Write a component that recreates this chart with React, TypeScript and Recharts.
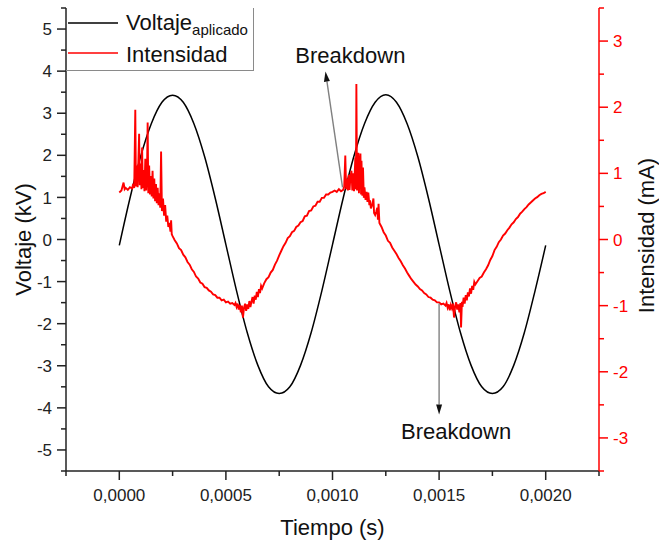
import React from 'react';
import { LineChart, Line, XAxis, YAxis, ReferenceLine, ReferenceDot } from 'recharts';

const FONT = "'Liberation Sans', Arial, Helvetica, sans-serif";
const RED = '#ff0000';
const AXIS = '#222';

// Voltaje aplicado (kV), una muestra cada 50 µs desde t = 0
const PASO_V = 0.00005;
const voltaje = [
  -0.14, 0.98, 1.97, 2.75, 3.26, 3.43, 3.26, 2.75, 1.97, 0.98,
  -0.12, -1.22, -2.21, -2.99, -3.5, -3.66, -3.5, -2.99, -2.21, -1.22,
  -0.12, 0.98, 1.97, 2.75, 3.26, 3.44, 3.26, 2.75, 1.97, 0.98,
  -0.12, -1.22, -2.21, -2.99, -3.5, -3.66, -3.5, -2.99, -2.21, -1.22,
  -0.14,
];

// Intensidad (mA): pares [t en unidades de 10 µs, mA]
const intensidadPico1: [number, number][] = [
  [0, 0.71], [1, 0.74], [2, 0.86], [2.5, 0.76], [3, 0.78], [4, 0.75], [5, 0.79], [6, 0.77],
  [6.5, 0.84], [7, 0.78], [7.5, 1.96], [7.8, 0.8], [8.2, 1.12], [8.6, 0.79], [9, 1.25], [9.3, 1.6],
  [9.6, 0.82], [10, 1.15], [10.4, 0.76], [10.7, 1.39], [11, 0.78], [11.4, 1.05], [11.8, 0.73],
  [12.2, 1.22], [12.6, 0.74], [13, 1.02], [13.3, 1.77], [13.6, 0.7], [14, 1.12], [14.4, 0.68],
  [14.8, 0.96], [15.2, 0.65], [15.6, 1.04], [16, 0.62], [16.4, 0.92], [16.8, 0.58], [17.2, 0.84],
  [17.6, 0.55], [18, 0.78], [18.4, 0.52], [18.8, 0.7], [19.2, 0.48], [19.6, 1.33], [20, 0.43],
  [20.5, 0.62], [21, 0.36], [21.5, 0.52], [22, 0.27], [22.5, 0.36], [23, 0.19], [23.5, 0.25],
  [24, 0.12], [24.3, 0.29], [24.6, 0.08], [25, 0.05], [26, -0.01],
];
const intensidadBajada1: [number, number][] = [
  [27, -0.06], [28, -0.13], [29, -0.16], [30, -0.23], [31, -0.27], [32, -0.34], [33, -0.38],
  [34, -0.45], [35, -0.49], [36, -0.56], [37, -0.59], [38, -0.65], [39, -0.67], [40, -0.72],
  [41, -0.73], [42, -0.77], [43, -0.79], [44, -0.83], [45, -0.84], [46, -0.88], [47, -0.88],
  [48, -0.92], [49, -0.91], [50, -0.95], [51, -0.94], [52, -0.97], [53, -0.96], [54, -0.99],
];
const intensidadValle1: [number, number][] = [
  [54.5, -0.96], [55, -1.02], [55.5, -0.97], [56, -1.06], [56.5, -0.99], [57, -1.1], [57.5, -1.0],
  [58, -1.18], [58.5, -1.03], [59, -0.97], [59.5, -1.08], [60, -0.98], [60.5, -1.05], [61, -0.93],
  [61.5, -1.02], [62, -0.94], [62.5, -0.87], [63, -0.97], [63.5, -0.85], [64, -0.91], [64.5, -0.79],
  [65, -0.87], [65.5, -0.75], [66, -0.81], [66.5, -0.7], [67, -0.74], [68, -0.66], [69, -0.6],
  [70, -0.57],
];
const intensidadSubida1: [number, number][] = [
  [71, -0.5], [72, -0.46], [73, -0.38], [74, -0.32], [75, -0.24], [76, -0.17], [77, -0.1],
  [78, -0.05], [79, 0.02], [80, 0.05], [81, 0.11], [82, 0.13], [83, 0.19], [84, 0.21], [85, 0.26],
  [86, 0.28], [87, 0.35], [88, 0.36], [89, 0.43], [90, 0.44], [91, 0.5], [92, 0.51], [93, 0.57],
  [94, 0.57], [95, 0.63], [96, 0.63], [97, 0.68], [98, 0.68], [99, 0.71], [100, 0.72],
];
const intensidadPico2: [number, number][] = [
  [101, 0.74], [102, 0.72], [103, 0.76], [104, 0.73], [105, 0.75], [105.5, 0.8], [106, 1.27],
  [106.4, 0.76], [106.8, 0.92], [107.2, 0.74], [107.6, 0.98], [108, 0.75], [108.4, 0.94],
  [108.9, 1.04], [109.3, 0.74], [109.7, 1.0], [110.1, 0.73], [110.7, 1.24], [111, 0.76],
  [111.2, 2.35], [111.5, 0.74], [111.8, 1.05], [112.1, 1.31], [112.4, 0.7], [112.8, 1.12],
  [113.1, 1.3], [113.4, 0.68], [113.6, 1.19], [114, 0.66], [114.3, 1.09], [114.7, 0.63],
  [115, 0.79], [115.5, 0.6], [116, 0.72], [116.4, 0.57], [116.8, 0.71], [117.3, 0.52],
  [117.6, 0.59], [118, 0.47], [118.6, 0.52], [119.2, 0.62], [119.5, 0.4], [120, 0.37],
  [120.5, 0.42], [121, 0.48], [121.3, 0.3], [121.6, 0.54], [122, 0.25], [123, 0.19], [124, 0.11],
  [125, 0.06], [126, -0.02],
];
const intensidadBajada2: [number, number][] = [
  [127, -0.05], [128, -0.12], [129, -0.17], [130, -0.22], [131, -0.28], [132, -0.33], [133, -0.39],
  [134, -0.44], [135, -0.5], [136, -0.55], [137, -0.6], [138, -0.64], [139, -0.68], [140, -0.71],
  [141, -0.75], [142, -0.77], [143, -0.81], [144, -0.83], [145, -0.87], [146, -0.88], [147, -0.91],
  [148, -0.92], [149, -0.95], [150, -0.95], [151, -0.98], [152, -0.97], [153, -1.0],
];
const intensidadValle2: [number, number][] = [
  [153.5, -0.96], [154, -1.03], [154.5, -0.98], [155, -1.07], [155.5, -0.99], [156, -1.04],
  [156.5, -0.97], [157, -1.18], [157.5, -1.01], [158, -0.95], [158.5, -1.06], [159, -0.98],
  [159.5, -1.1], [160, -0.96], [160.3, -1.33], [160.7, -0.94], [161, -1.02], [161.5, -0.88],
  [162, -0.97], [162.5, -0.84], [163, -0.92], [163.5, -0.8], [164, -0.86], [164.5, -0.74],
  [165, -0.82], [165.5, -0.7], [166, -0.76], [166.5, -0.64], [167, -0.68], [168, -0.63],
  [169, -0.58], [170, -0.56],
];
const intensidadSubida2: [number, number][] = [
  [171, -0.5], [172, -0.45], [173, -0.39], [174, -0.31], [175, -0.25], [176, -0.16], [177, -0.11],
  [178, -0.04], [179, 0.0], [180, 0.06], [181, 0.09], [182, 0.14], [183, 0.18], [184, 0.23],
  [185, 0.26], [186, 0.31], [187, 0.34], [188, 0.39], [189, 0.42], [190, 0.46], [191, 0.49],
  [192, 0.53], [193, 0.56], [194, 0.59], [195, 0.62], [196, 0.64], [197, 0.67], [198, 0.69],
  [199, 0.7], [200, 0.72],
];

const ticksX = [-0.00025, 0, 0.00025, 0.0005, 0.00075, 0.001, 0.00125, 0.0015, 0.00175, 0.002, 0.00225];
const ticksV = [-5.5, -5, -4.5, -4, -3.5, -3, -2.5, -2, -1.5, -1, -0.5, 0, 0.5, 1, 1.5, 2, 2.5, 3, 3.5, 4, 4.5, 5, 5.5];
const ticksI = [-3.5, -3, -2.5, -2, -1.5, -1, -0.5, 0, 0.5, 1, 1.5, 2, 2.5, 3, 3.5];

const datosV = voltaje.map((v, i) => ({ t: i * PASO_V, v }));
const datosI = [
  ...intensidadPico1, ...intensidadBajada1, ...intensidadValle1, ...intensidadSubida1,
  ...intensidadPico2, ...intensidadBajada2, ...intensidadValle2, ...intensidadSubida2,
].map(([k, i]) => ({ t: k * 1e-5, i }));

const TM = 2;
const isInt = (v: number) => Math.abs(v - Math.round(v)) < 1e-6;
const isMajorX = (v: number) => isInt(v / 0.0005);

const LeftTick = ({ x, y, payload }: any) => {
  const ax = x + TM;
  const major = isInt(payload.value);
  return (
    <g>
      <line x1={ax - (major ? 9 : 5)} x2={ax} y1={y} y2={y} stroke={AXIS} strokeWidth={1.5} />
      {major && (
        <text x={ax - 14} y={y} dy="0.36em" textAnchor="end" fontSize={17} fill="#222" fontFamily={FONT}>
          {payload.value}
        </text>
      )}
    </g>
  );
};

const RightTick = ({ x, y, payload }: any) => {
  const ax = x - TM;
  const major = isInt(payload.value);
  return (
    <g>
      <line x1={ax} x2={ax + (major ? 9 : 5)} y1={y} y2={y} stroke={RED} strokeWidth={1.5} />
      {major && (
        <text x={ax + 14} y={y} dy="0.36em" textAnchor="start" fontSize={17} fill={RED} fontFamily={FONT}>
          {payload.value}
        </text>
      )}
    </g>
  );
};

const BottomTick = ({ x, y, payload }: any) => {
  const ay = y - TM;
  const major = isMajorX(payload.value);
  return (
    <g>
      <line x1={x} x2={x} y1={ay} y2={ay + (major ? 9 : 5)} stroke={AXIS} strokeWidth={1.5} />
      {major && (
        <text x={x} y={ay + 30} textAnchor="middle" fontSize={17} fill="#222" fontFamily={FONT}>
          {payload.value.toFixed(4).replace('.', ',')}
        </text>
      )}
    </g>
  );
};

const TopTick = ({ x, y, payload }: any) => {
  const ay = y + TM;
  const major = isMajorX(payload.value);
  return <line x1={x} x2={x} y1={ay} y2={ay + (major ? 8 : 4)} stroke={AXIS} strokeWidth={1.5} />;
};

const Flecha = (props: any) => {
  const { x1, y1, x2, y2 } = props;
  const ang = Math.atan2(y2 - y1, x2 - x1);
  const L = 10;
  const W = 3;
  const bx = x2 - L * Math.cos(ang);
  const by = y2 - L * Math.sin(ang);
  const px = -Math.sin(ang) * W;
  const py = Math.cos(ang) * W;
  return (
    <g>
      <line x1={x1} y1={y1} x2={bx} y2={by} stroke="#808080" strokeWidth={1.4} />
      <polygon points={`${x2},${y2} ${bx + px},${by + py} ${bx - px},${by - py}`} fill="#111" />
    </g>
  );
};

const Texto = (props: any) => (
  <text x={props.cx} y={props.cy} textAnchor="middle" fontSize={22} fill="#111" fontFamily={FONT}>
    Breakdown
  </text>
);

const tituloV = (p: any) => {
  const vb = p.viewBox ?? { x: 0, y: 8, width: 66, height: 463 };
  return (
    <text transform={`translate(${vb.x + 31},${vb.y + vb.height / 2}) rotate(-90)`} textAnchor="middle"
      fontSize={22} fill="#111" fontFamily={FONT}>
      Voltaje (kV)
    </text>
  );
};

const tituloI = (p: any) => {
  const vb = p.viewBox ?? { x: 599, y: 8, width: 60, height: 463 };
  return (
    <text transform={`translate(${vb.x + 55},${vb.y + vb.height / 2 - 4}) rotate(-90)`} textAnchor="middle"
      fontSize={22} fill="#111" fontFamily={FONT}>
      Intensidad (mA)
    </text>
  );
};

const tituloT = (p: any) => {
  const vb = p.viewBox ?? { x: 66, y: 471, width: 533, height: 73 };
  return (
    <text x={vb.x + vb.width / 2} y={vb.y + 64} textAnchor="middle" fontSize={22} fill="#111" fontFamily={FONT}>
      Tiempo (s)
    </text>
  );
};

export default function App() {
  return (
    <div style={{ position: 'absolute', left: 0, top: 0, width: 659, height: 544, background: '#fff', fontFamily: FONT }}>
      <LineChart width={659} height={544} margin={{ top: 8, right: 0, bottom: 0, left: 0 }}>
        <XAxis
          dataKey="t"
          type="number"
          domain={[-0.00025, 0.00225]}
          ticks={ticksX}
          interval={0}
          allowDataOverflow
          height={73}
          tickSize={0}
          tickMargin={TM}
          tickLine={false}
          tick={<BottomTick />}
          axisLine={{ stroke: AXIS, strokeWidth: 1.5 }}
          label={{ content: tituloT }}
        />
        <XAxis
          xAxisId="top"
          orientation="top"
          type="number"
          domain={[-0.00025, 0.00225]}
          ticks={ticksX}
          interval={0}
          allowDataOverflow
          height={0}
          tickSize={0}
          tickMargin={TM}
          tickLine={false}
          tick={<TopTick />}
          axisLine={{ stroke: AXIS, strokeWidth: 1.5 }}
        />
        <YAxis
          yAxisId="left"
          type="number"
          domain={[-5.5, 5.5]}
          ticks={ticksV}
          interval={0}
          allowDataOverflow
          width={66}
          tickSize={0}
          tickMargin={TM}
          tickLine={false}
          tick={<LeftTick />}
          axisLine={{ stroke: AXIS, strokeWidth: 1.5 }}
          label={{ content: tituloV }}
        />
        <YAxis
          yAxisId="right"
          orientation="right"
          type="number"
          domain={[-3.5, 3.5]}
          ticks={ticksI}
          interval={0}
          allowDataOverflow
          width={60}
          tickSize={0}
          tickMargin={TM}
          tickLine={false}
          tick={<RightTick />}
          axisLine={{ stroke: RED, strokeWidth: 1.5 }}
          label={{ content: tituloI }}
        />
        <Line
          data={datosV}
          yAxisId="left"
          dataKey="v"
          type="monotone"
          stroke="#000"
          strokeWidth={1.5}
          dot={false}
          activeDot={false}
          isAnimationActive={false}
        />
        <Line
          data={datosI}
          yAxisId="right"
          dataKey="i"
          type="linear"
          stroke={RED}
          strokeWidth={1.9}
          dot={false}
          activeDot={false}
          isAnimationActive={false}
        />
        <ReferenceLine
          yAxisId="left"
          segment={[{ x: 0.001047, y: 1.24 }, { x: 0.000967, y: 3.99 }]}
          shape={Flecha}
        />
        <ReferenceLine
          yAxisId="left"
          segment={[{ x: 0.0015, y: -1.52 }, { x: 0.0015, y: -4.16 }]}
          shape={Flecha}
        />
        <ReferenceDot yAxisId="left" x={0.001084} y={4.2} r={0} shape={Texto} />
        <ReferenceDot yAxisId="left" x={0.00158} y={-4.73} r={0} shape={Texto} />
      </LineChart>
      <div
        style={{
          position: 'absolute', left: 66, top: 8, width: 188, height: 63, boxSizing: 'border-box',
          borderRight: '1px solid #8a8a8a', borderBottom: '1px solid #8a8a8a', pointerEvents: 'none',
        }}
      >
        <svg width={188} height={63} style={{ display: 'block', overflow: 'visible' }}>
          <line x1={2} x2={52} y1={15} y2={15} stroke="#000" strokeWidth={1.5} />
          <text x={60} y={22} fontSize={22} fill="#111" fontFamily={FONT}>
            Voltaje<tspan fontSize={15} dy={5}>aplicado</tspan>
          </text>
          <line x1={2} x2={52} y1={45} y2={45} stroke={RED} strokeWidth={1.5} />
          <text x={60} y={54} fontSize={22} fill="#111" fontFamily={FONT}>
            Intensidad
          </text>
        </svg>
      </div>
    </div>
  );
}
